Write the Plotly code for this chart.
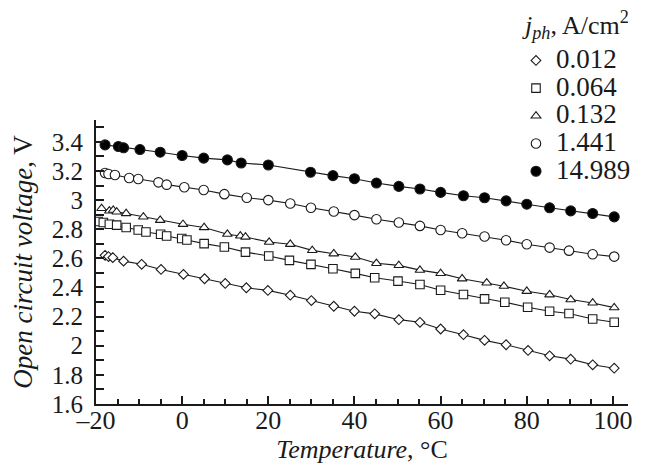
import plotly.graph_objects as go

# ---- data ----
series_names = ["0.012", "0.064", "0.132", "1.441", "14.989"]
legend_title = "<i>j<sub>ph</sub></i>, A/cm<sup>2</sup>"

t_diamond = [-17.9, -17.1, -16.1, -13.6, -9.4, -4.9, 0.3, 5.2, 10, 14.9, 19.9, 25.1, 30, 35.2, 40,
             44.7, 50.3, 55.2, 60, 65.3, 70.2, 75.2, 80.3, 85.3, 90.2, 95.3, 100.3]
v_diamond = [2.621, 2.612, 2.605, 2.581, 2.559, 2.524, 2.490, 2.460, 2.428, 2.398, 2.380, 2.347, 2.310, 2.271, 2.237,
             2.219, 2.179, 2.161, 2.115, 2.076, 2.037, 2.007, 1.968, 1.931, 1.908, 1.869, 1.846]

t_square = [-19.5, -18.3, -16.9, -15.2, -13, -10.2, -8.4, -5, -3.6, -0.1, 1.1, 5.1, 9.8, 14.7, 20.1, 24.9, 29.9, 35, 40.2,
            44.7, 50.1, 55.2, 60, 65.3, 70.2, 74.9, 80.2, 85.3, 89.8, 95.3, 100.3]
v_square = [2.853, 2.846, 2.834, 2.828, 2.812, 2.795, 2.781, 2.766, 2.754, 2.736, 2.726, 2.701, 2.678, 2.643, 2.616, 2.586, 2.559, 2.529, 2.497,
            2.467, 2.444, 2.421, 2.381, 2.352, 2.322, 2.299, 2.264, 2.237, 2.221, 2.184, 2.161]

t_triangle = [-18.7, -16.9, -16, -15.2, -13, -9, -5.1, 0.2, 5.1, 10.5, 13.5, 14.7, 20.2, 25.1, 30.2, 35.2, 40.2,
              45.1, 50.3, 55.2, 60, 65, 70.7, 74.7, 80, 85.3, 90.2, 95.3, 100.3]
v_triangle = [2.943, 2.926, 2.931, 2.919, 2.908, 2.885, 2.862, 2.834, 2.812, 2.766, 2.754, 2.747, 2.712, 2.697, 2.655, 2.632, 2.609,
              2.566, 2.552, 2.519, 2.497, 2.460, 2.432, 2.409, 2.374, 2.350, 2.317, 2.294, 2.262]

t_circle = [-17.9, -17.1, -15.6, -12.3, -10.2, -5.5, -3.6, 0.5, 5, 9.8, 15, 20, 25.1, 29.9, 35.2, 40,
            45.1, 50.3, 55.2, 60, 65, 70.2, 75.2, 80, 85.3, 89.8, 95.3, 100.3]
v_circle = [3.186, 3.179, 3.172, 3.152, 3.145, 3.122, 3.106, 3.088, 3.069, 3.041, 3.016, 3.000, 2.977, 2.947, 2.922, 2.897,
            2.869, 2.846, 2.823, 2.795, 2.772, 2.750, 2.724, 2.697, 2.674, 2.653, 2.628, 2.612]

t_filled = [-17.9, -14.8, -13.6, -9.8, -5.1, 0, 5, 10.5, 13.7, 20, 29.8, 35, 40,
            45.1, 50.3, 55.2, 60, 65.3, 70.2, 75.2, 80, 85.3, 90.2, 95.3, 100.3]
v_filled = [3.379, 3.368, 3.359, 3.347, 3.329, 3.306, 3.288, 3.276, 3.255, 3.241, 3.191, 3.168, 3.147,
            3.117, 3.094, 3.076, 3.053, 3.030, 3.016, 2.995, 2.972, 2.947, 2.926, 2.908, 2.885]

x_tickvals = [-20, 0, 20, 40, 60, 80, 100]
x_ticktext = ["\u201320", "0", "20", "40", "60", "80", "100"]
y_tickvals = [1.6, 1.8, 2.0, 2.2, 2.4, 2.6, 2.8, 3.0, 3.2, 3.4]
y_ticktext = ["1.6", "1.8", "2", "2.2", "2.4", "2.6", "2.8", "3", "3.2", "3.4"]

FONT = "Liberation Serif"
INK = "#1a1a1a"

styles = [
    dict(symbol="diamond", size=7.5, color="white"),
    dict(symbol="square", size=8.5, color="white"),
    dict(symbol="triangle-up", size=8.5, color="white"),
    dict(symbol="circle", size=9.5, color="white"),
    dict(symbol="circle", size=10, color="black"),
]
data = [(t_diamond, v_diamond), (t_square, v_square), (t_triangle, v_triangle),
        (t_circle, v_circle), (t_filled, v_filled)]

fig = go.Figure()
# connecting lines
for (t, v) in data:
    fig.add_trace(go.Scatter(x=t, y=v, mode="lines", line=dict(color=INK, width=1.1),
                             showlegend=False, hoverinfo="skip"))
# markers
for name, (t, v), st in zip(series_names, data, styles):
    fig.add_trace(go.Scatter(
        x=t, y=v, mode="markers",
        name='<span style="font-size:27px">%s</span>' % name,
        marker=dict(symbol=st["symbol"], size=st["size"], color=st["color"],
                    line=dict(color=INK, width=1.1))))

# page body adds an 8px offset, so the figure is sized to fit the window
fig.update_layout(
    width=641, height=460,
    margin=dict(l=88, r=21, t=112, b=64, autoexpand=False),
    paper_bgcolor="white", plot_bgcolor="white",
    font=dict(family=FONT, size=25, color=INK),
    legend=dict(
        xref="container", yref="container",
        x=0.7925, xanchor="left", y=0.927, yanchor="top",
        bgcolor="rgba(0,0,0,0)", font=dict(size=19, family=FONT, color=INK),
        tracegroupgap=0, itemsizing="trace",
    ),
    annotations=[dict(
        text=legend_title, xref="paper", yref="paper", x=0.797, y=1.334,
        xanchor="left", yanchor="middle", showarrow=False,
        font=dict(size=26, family=FONT, color=INK),
    )],
)
fig.update_xaxes(
    range=[-20, 103.5], showgrid=False, zeroline=False,
    showline=True, linecolor=INK, linewidth=2,
    tickmode="array", tickvals=x_tickvals, ticktext=x_ticktext,
    ticks="inside", ticklen=8, tickwidth=1.5, tickcolor=INK,
    minor=dict(dtick=5, tick0=0, ticks="inside", ticklen=5, tickwidth=1.5, tickcolor=INK, showgrid=False),
    tickfont=dict(size=26, family=FONT), ticklabelstandoff=-8,
    title=dict(text="<i>Temperature</i>, °C", font=dict(size=26, family=FONT), standoff=0),
)
fig.update_yaxes(
    range=[1.6, 3.55], showgrid=False, zeroline=False,
    showline=True, linecolor=INK, linewidth=2,
    tickmode="array", tickvals=y_tickvals, ticktext=y_ticktext,
    ticks="inside", ticklen=8, tickwidth=1.5, tickcolor=INK,
    minor=dict(dtick=0.1, tick0=0, ticks="inside", ticklen=8, tickwidth=1.5, tickcolor=INK, showgrid=False),
    tickfont=dict(size=25, family=FONT), ticklabelstandoff=6,
    title=dict(text="<i>Open circuit voltage</i>, V", font=dict(size=27, family=FONT), standoff=15),
)

fig.write_html("out.html")
